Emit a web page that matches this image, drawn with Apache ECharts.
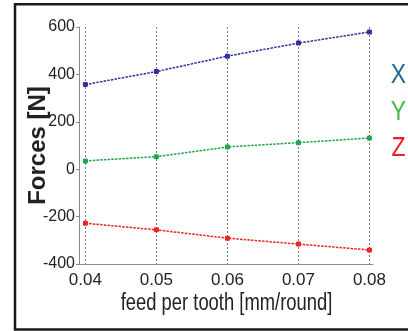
<!DOCTYPE html>
<html>
<head>
<meta charset="utf-8">
<script src="https://cdn.jsdelivr.net/npm/echarts@6/dist/echarts.min.js"></script>
<style>html,body{margin:0;padding:0;background:#fff;}#c{width:408px;height:331px;}</style>
</head>
<body>
<div id="c"></div>
<script>
var feeds = [0.04, 0.05, 0.06, 0.07, 0.08];
var forceX = [357, 412, 477, 532, 579];
var forceY = [35, 53, 94, 112, 132];
var forceZ = [-228, -256, -291, -316, -341];
var yTicks = [-400, -200, 0, 200, 400, 600];
var legendNames = ['X', 'Y', 'Z'];
var xTitle = 'feed per tooth [mm/round]';
var yTitle = 'Forces [N]';

function pairs(vals) { return feeds.map(function (f, i) { return [f, vals[i]]; }); }

var sans = '"Liberation Sans", Arial, sans-serif';
var lineColors = ['#2e2ea6', '#1fa84a', '#f2221f'];
var legendColors = ['#1d6a97', '#4cb84a', '#e8202a'];
var seriesVals = [forceX, forceY, forceZ];

var chart = echarts.init(document.getElementById('c'), null, {renderer: 'canvas'});
var option = {
  backgroundColor: '#fff',
  animation: false,
  grid: {left: 79, right: 35, top: 27, bottom: 67, containLabel: false},
  xAxis: {
    type: 'value', min: 0.0391, max: 0.0805,
    axisLine: {show: true, onZero: false, lineStyle: {color: '#8a8a8a', width: 1}},
    axisTick: {show: false, customValues: feeds},
    axisLabel: {customValues: feeds, color: '#222', fontFamily: sans, fontSize: 17, margin: 8,
      formatter: function (v) { return v.toFixed(2); }},
    splitLine: {show: true, lineStyle: {color: '#777', type: [2, 2], width: 1}}
  },
  yAxis: {
    type: 'value', min: yTicks[0], max: yTicks[yTicks.length - 1], interval: 200,
    axisLine: {show: true, lineStyle: {color: '#8a8a8a', width: 1}},
    axisTick: {show: true, inside: false, length: 3, lineStyle: {color: '#8a8a8a'}},
    axisLabel: {color: '#222', fontFamily: sans, fontSize: 16, margin: 4},
    splitLine: {show: false},
    name: yTitle, nameLocation: 'middle', nameGap: 29, nameMoveOverlap: false,
    nameTextStyle: {color: '#222', fontFamily: sans, fontWeight: 'bold', fontSize: 24}
  },
  series: seriesVals.map(function (vals, i) {
    return {
      type: 'line', name: legendNames[i], data: pairs(vals),
      symbol: 'roundRect', symbolSize: 5, showSymbol: true,
      itemStyle: {color: lineColors[i]},
      lineStyle: {color: lineColors[i], width: 1.5, type: [2.5, 1.2]}
    };
  }),
  graphic: [
    {type: 'rect', z: -1, shape: {x: 15, y: 4.2, width: 500, height: 325.3},
      style: {fill: 'none', stroke: '#1a1a1a', lineWidth: 2.5}},
    {type: 'text', x: 226.5, y: 303.5, scaleX: 0.8, scaleY: 1.05,
      style: {text: xTitle, fill: '#222', font: '23px ' + sans, textAlign: 'center', textVerticalAlign: 'middle'}}
  ].concat(legendNames.map(function (n, i) {
    return {type: 'text', x: 398.5, y: 75.5 + i * 36.3, scaleX: 0.82,
      style: {text: n, fill: legendColors[i], font: '28px ' + sans, textAlign: 'center', textVerticalAlign: 'middle'}};
  }))
};
chart.setOption(option);
</script>
</body>
</html>
